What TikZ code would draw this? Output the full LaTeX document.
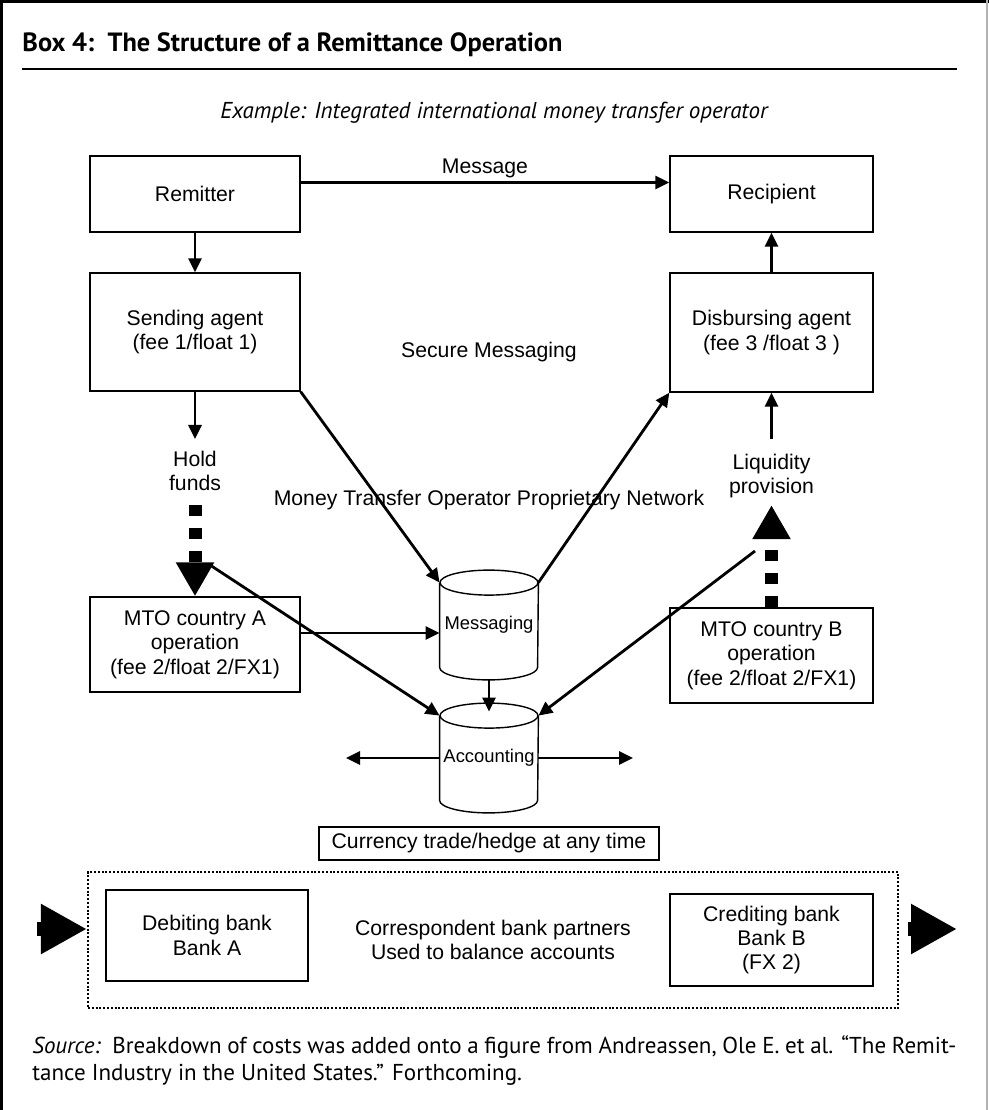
\documentclass[tikz,border=0pt]{standalone}
\usepackage{fontspec}
\setmainfont{Liberation Sans}
\newfontfamily\myriad{PT Sans}
\usepackage{tikz}
\usetikzlibrary{arrows.meta, positioning, calc}

% outline of a database drum around a node
\newcommand{\drum}[1]{%
  \draw[line width=0.7pt] (#1.north) ellipse[x radius=24.5pt, y radius=6.25pt];
  \draw[line width=0.7pt] (#1.north west) -- (#1.south west)
    arc[start angle=180, end angle=360, x radius=24.5pt, y radius=6.25pt] -- (#1.north east);
}

\begin{document}
\begin{tikzpicture}[x=0.5pt, y=-0.5pt,
  font=\fontsize{10.6}{12.2}\selectfont,
  box/.style={draw, line width=0.7pt, inner sep=0pt, align=center},
  drumnode/.style={minimum width=49pt, minimum height=42pt, inner sep=0pt,
    font=\fontsize{9.2}{11}\selectfont},
  link/.style={line width=1.4pt, -{Triangle[length=7pt, width=6.5pt]}},
  bigarrow/.style={line width=6.5pt, dash pattern=on 5.5pt off 6pt,
    -{Triangle[length=17pt, width=18pt]}},
  sidearrow/.style={line width=7pt, -{Triangle[length=23pt, width=23.5pt]}},
  ]
  \useasboundingbox (0,0) rectangle (989,1110);
  % frame
  \draw[line width=1.6pt] (1.5,1110) -- (1.5,1.5) -- (989,1.5);
  \draw[gray!60, line width=0.6pt] (987,0) -- (987,1110);

  \node[anchor=west, inner sep=0pt, font=\myriad\bfseries\fontsize{13.2}{15}\selectfont] (title) at (22,45)
    {Box 4:\ \ The Structure of a Remittance Operation};
  \draw[line width=1.1pt] (22,69) -- (957,69);
  \node[font=\myriad\itshape\fontsize{11.5}{13}\selectfont] (sub) at (494,113)
    {Example: Integrated international money transfer operator};

  % top row
  \node[box, minimum width=105pt, minimum height=38pt] (rem) at (195,194) {Remitter};
  \node[box, minimum width=101.5pt, minimum height=38pt] (rec) at (771.5,194) {Recipient};
  \node[box, minimum width=105pt, minimum height=59pt] (send) at (195,332)
    {Sending agent\\(fee 1/float 1)};
  \node[box, minimum width=101.5pt, minimum height=59.5pt] (disb) at (771.5,332.5)
    {Disbursing agent\\(fee 3 /float 3 )};
  \node (secure) at (489,352) {Secure Messaging};

  \draw[link] ([yshift=5.75pt]rem.east) -- ([yshift=5.75pt]rec.west)
    node[midway, above=-1.5pt] {Message};
  \draw[link] (rem) -- (send);
  \draw[link] (disb) -- (rec);

  % left column
  \node[align=center] (hold) at (195,471) {Hold\\funds};
  \node[box, minimum width=105pt, minimum height=47.5pt] (mtoa) at (195,644.5)
    {MTO country A\\operation\\(fee 2/float 2/FX1)};
  \draw[link] (send) -- ([yshift=2.5pt]hold.north);
  \draw[bigarrow] ([yshift=-3.5pt]hold.south) -- (mtoa.north);

  % right column
  \node[align=center] (liq) at (771.5,476) {Liquidity\\provision};
  \node[box, minimum width=101.5pt, minimum height=47.5pt] (mtob) at (771.5,655.5)
    {MTO country B\\operation\\(fee 2/float 2/FX1)};
  \draw[link] ([yshift=4pt]liq.north) -- (disb);
  \draw[bigarrow] (mtob.north) -- (liq.south);

  % network
  \node (net) at (489,500) {Money Transfer Operator Proprietary Network};
  \node[drumnode] (msg) at (489,625) {Messaging};
  \node[drumnode] (acc) at (489,758) {Accounting};
  \drum{msg}
  \drum{acc}
  \coordinate (holdfoot) at (210,565);
  \coordinate (liqfoot) at (755,551);
  \coordinate (accl) at (346,758);
  \coordinate (accr) at (633,758);

  \draw[link] (send.south east) -- (msg.north west);
  \draw[link] (msg.north east) -- (disb.south west);
  \draw[link] ([yshift=5.75pt]mtoa.east) -- ([yshift=5.75pt]mtoa.east -| msg.west);
  \draw[link] ([yshift=-6.25pt]msg.south) -- ([yshift=2pt]acc.north);
  \draw[link] (holdfoot) -- (acc.north west);
  \draw[link] (liqfoot) -- (acc.north east);
  \draw[link] (acc.west) -- (accl);
  \draw[link] (acc.east) -- (accr);

  % banks
  \node[box, minimum width=170pt, minimum height=16.5pt] (fx) at (489,843.5)
    {Currency trade/hedge at any time};
  \node[draw, line width=1.1pt, dash pattern=on 1pt off 0.9pt, minimum width=405pt,
    minimum height=68pt, align=center] (corr) at (493,940)
    {Correspondent bank partners\\Used to balance accounts};
  \node[box, minimum width=101pt, minimum height=45.5pt] (debit) at (207,935.5)
    {Debiting bank\\Bank A};
  \node[box, minimum width=101.5pt, minimum height=46pt] (credit) at (771.5,940)
    {Crediting bank\\Bank B\\(FX 2)};
  \coordinate (lin) at (37,929);
  \coordinate (rout) at (957,929);
  \draw[sidearrow] (lin) -- (corr.west |- lin);
  \draw[sidearrow] (corr.east |- rout) ++(9,0) -- (rout);

  \node[anchor=north west, align=left, inner sep=0pt,
    font=\myriad\fontsize{11.5}{13.5}\selectfont] (src) at (32,1035)
    {\makebox[462pt][s]{\textit{Source:}\ \ Breakdown of costs was added onto a figure from Andreassen, Ole E. et al. “The Remit-}\\
     tance Industry in the United States.” Forthcoming.};
\end{tikzpicture}
\end{document}
